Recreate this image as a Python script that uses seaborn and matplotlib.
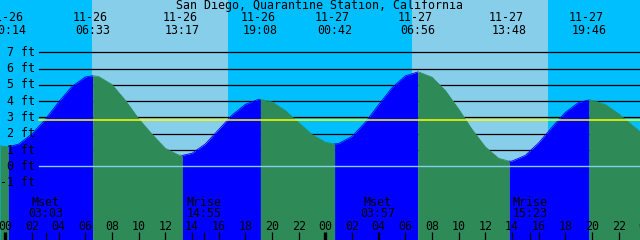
import matplotlib
matplotlib.use("Agg")
import matplotlib.pyplot as plt
import matplotlib.transforms as mtrans
import numpy as np
import pandas as pd
import seaborn as sns

# ---------------- data ----------------
title = "San Diego, Quarantine Station, California"

# tide extremes (hours counted from 11-26 00:00)
event_dates = ["11-26", "11-26", "11-26", "11-26", "11-27", "11-27", "11-27", "11-27"]
event_labels = ["00:14", "06:33", "13:17", "19:08", "00:42", "06:56", "13:48", "19:46"]
event_hours = [0.233, 6.55, 13.283, 19.133, 24.70, 30.933, 37.80, 43.767]
event_heights = [1.20, 5.56, 0.67, 4.11, 1.37, 5.79, 0.31, 4.07]

# tide curve (hours, feet)
curve_hours = [-0.4, 0, 1, 2, 3, 4, 5, 6, 7, 8, 9, 10, 11, 12, 13, 14, 15, 16, 17,
               18, 19, 20, 21, 22, 23, 24, 25, 26, 27, 28, 29, 30, 31, 32, 33, 34,
               35, 36, 37, 38, 39, 40, 41, 42, 43, 44, 45, 46, 47, 47.6]
curve_heights = [1.26, 1.21, 1.36, 1.99, 2.88, 3.95, 4.90, 5.48, 5.51, 5.02, 4.05,
                 2.92, 1.97, 1.10, 0.69, 0.80, 1.37, 2.25, 3.14, 3.80, 4.11, 3.95,
                 3.42, 2.68, 1.95, 1.48, 1.40, 1.83, 2.70, 3.78, 4.82, 5.55, 5.79,
                 5.47, 4.65, 3.51, 2.27, 1.19, 0.49, 0.32, 0.67, 1.44, 2.40, 3.31,
                 3.92, 4.06, 3.79, 3.22, 2.53, 2.13]

sunrise_hours = [6.50, 30.52]
sunset_hours = [16.70, 40.70]

moon_names = ["Mset", "Mrise", "Mset", "Mrise"]
moon_labels = ["03:03", "14:55", "03:57", "15:23"]
moon_hours = [3.05, 14.917, 27.95, 39.383]

level_ticks = [-1, 0, 1, 2, 3, 4, 5, 6, 7]
hour_ticks = list(range(0, 49, 2))
hour_tick_labels = ["%02d" % (h % 24) for h in hour_ticks]
mean_level = 2.82

# ---------------- styling ----------------
NIGHT = "#00BFFF"
DAY = "#87CEEB"
FLOOD = "#0000FF"
EBB = "#2E8B57"
FONT = "DejaVu Sans Mono"
FS = 8.4

X0, X1 = -0.3975, 47.6025
Y0, Y1 = -4.524, 10.209

fig = plt.figure(figsize=(6.4, 2.4), dpi=100)
ax = fig.add_axes([0, 0, 1, 1])
ax.set_xlim(X0, X1)
ax.set_ylim(Y0, Y1)
ax.axis("off")

xdata_ypix = mtrans.blended_transform_factory(ax.transData, ax.transAxes)
xax_ydata = mtrans.blended_transform_factory(ax.transAxes, ax.transData)

def fy(py):
    return 1 - py / 240.0

# sky
bounds = [X0] + sorted(sunrise_hours + sunset_hours) + [X1]
for i in range(len(bounds) - 1):
    ax.axvspan(bounds[i], bounds[i + 1], color=(NIGHT if i % 2 == 0 else DAY),
               lw=0, zorder=0)

# grid lines (in the sky only)
for lv in level_ticks:
    if lv > 0:
        ax.axhline(lv, xmin=39 / 640, xmax=1, color="black", lw=0.9, zorder=1)

# tide fill, split at extremes
df = pd.DataFrame({"hour": curve_hours + event_hours,
                   "height": curve_heights + event_heights})
df = df.drop_duplicates("hour").sort_values("hour").reset_index(drop=True)
seg_bounds = [X0 - 0.01] + event_hours + [X1 + 0.01]
for i in range(len(seg_bounds) - 1):
    a, b = seg_bounds[i], seg_bounds[i + 1]
    seg = df[(df["hour"] >= a - 1e-9) & (df["hour"] <= b + 1e-9)]
    rising = seg["height"].iloc[-1] > seg["height"].iloc[0]
    col = FLOOD if rising else EBB
    ax.fill_between(seg["hour"], seg["height"], Y0 - 1, color=col, lw=0, zorder=2)
    sns.lineplot(data=seg, x="hour", y="height", ax=ax, color=col, lw=0.6,
                 sort=False, estimator=None, zorder=2.1, legend=False)
ax.axis("off")

# mean sea level and datum
ax.axhline(mean_level, xmin=39 / 640, xmax=1, color="#FFFF00", lw=1.1, zorder=3)
ax.axhline(0, xmin=39 / 640, xmax=1, color="#87CEEB", lw=1.0, zorder=3)

# level labels
for lv in level_ticks:
    ax.text(35 / 640, lv, "%d ft" % lv, transform=xax_ydata, ha="right",
            va="center", fontsize=FS, family=FONT, color="black", zorder=5)

# title and tide event labels
ax.text(0.5, fy(6), title, transform=ax.transAxes, ha="center", va="center",
        fontsize=FS, family=FONT, color="black", zorder=5)
for d, lab, h in zip(event_dates, event_labels, event_hours):
    ax.text(h - 0.2, fy(17.5), d, transform=xdata_ypix, ha="center", va="center",
            fontsize=FS, family=FONT, color="black", zorder=5)
    ax.text(h, fy(30), lab, transform=xdata_ypix, ha="center", va="center",
            fontsize=FS, family=FONT, color="black", zorder=5)

# hour ticks
for h, lab in zip(hour_ticks, hour_tick_labels):
    day = (h % 24 == 0)
    ax.vlines(h, fy(240), fy(232), transform=xdata_ypix, color="black",
              lw=(2.4 if day else 0.9), zorder=5)
    ax.text(h, fy(226), lab, transform=xdata_ypix, ha="center", va="center",
            fontsize=FS, family=FONT, color="black", zorder=5)

# moon events
for name, lab, h in zip(moon_names, moon_labels, moon_hours):
    ax.vlines(h, fy(240), fy(232), transform=xdata_ypix, color="black",
              lw=0.9, zorder=5)
    ax.text(h, fy(202), name, transform=xdata_ypix, ha="center", va="center",
            fontsize=FS, family=FONT, color="black", zorder=5)
    ax.text(h, fy(213.5), lab, transform=xdata_ypix, ha="center", va="center",
            fontsize=FS, family=FONT, color="black", zorder=5)

ax.set_xlim(X0, X1)
ax.set_ylim(Y0, Y1)
fig.savefig("out.png", dpi=100)
